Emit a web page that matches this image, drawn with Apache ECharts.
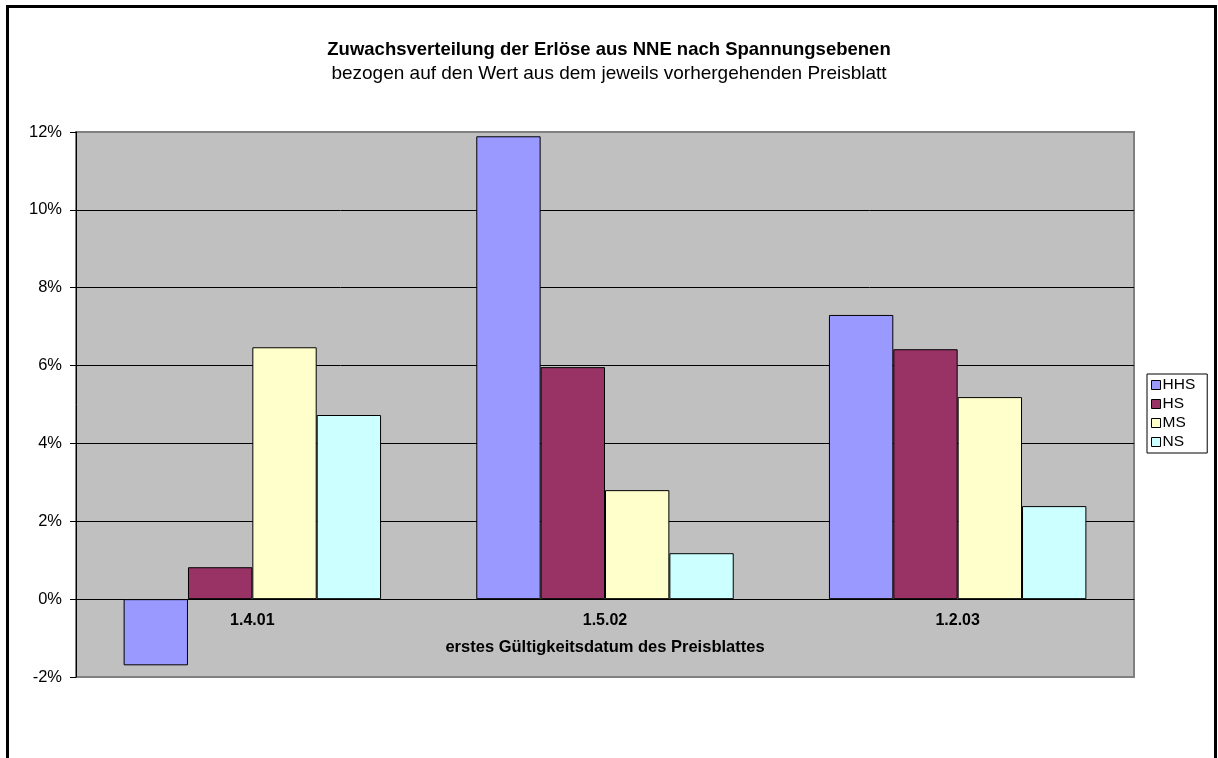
<!DOCTYPE html>
<html>
<head>
<meta charset="utf-8">
<script src="https://cdn.jsdelivr.net/npm/echarts@6/dist/echarts.min.js"></script>
<style>
  html, body { margin: 0; padding: 0; background: #fff; }
  #chart { width: 1218px; height: 758px; }
</style>
</head>
<body>
<div id="chart"></div>
<script>
// Zuwachs in Prozent je Preisblatt
let categories = ["1.4.01", "1.5.02", "1.2.03"];
let seriesNames = ["HHS", "HS", "MS", "NS"];
let hhs = [-1.7, 11.89, 7.3];
let hs = [0.82, 5.96, 6.42];
let ms = [6.47, 2.8, 5.19];
let ns = [4.73, 1.18, 2.39];
let colors = ["#9999FF", "#993366", "#FFFFCC", "#CCFFFF"];

let font = "Liberation Sans, Arial, sans-serif";
let values = [hhs, hs, ms, ns];

let series = seriesNames.map(function (name, i) {
    return {
        name: name,
        type: "bar",
        data: values[i],
        barGap: 0,
        barCategoryGap: "27%",
        itemStyle: {
            color: colors[i],
            borderColor: "#000",
            borderWidth: 1
        }
    };
});

let myChart = echarts.init(document.getElementById("chart"));
myChart.setOption({
    animation: false,
    title: {
        text: "Zuwachsverteilung der Erlöse aus NNE nach Spannungsebenen",
        subtext: "bezogen auf den Wert aus dem jeweils vorhergehenden Preisblatt",
        left: "center",
        top: 35,
        itemGap: 5,
        textStyle: { fontFamily: font, fontSize: 18.5, fontWeight: "bold", color: "#000" },
        subtextStyle: { fontFamily: font, fontSize: 19, color: "#000" }
    },
    grid: {
        left: 76,
        right: 84,
        top: 132,
        bottom: 81,
        show: true,
        backgroundColor: "#C0C0C0",
        borderColor: "#808080",
        borderWidth: 2
    },
    legend: {
        orient: "vertical",
        left: 1147,
        top: 374,
        padding: [3, 12, 3, 4],
        itemGap: 3,
        itemWidth: 9,
        itemHeight: 9,
        icon: "rect",
        borderColor: "#000",
        borderWidth: 1,
        backgroundColor: "#fff",
        itemStyle: { borderColor: "#000", borderWidth: 1 },
        textStyle: { fontFamily: font, fontSize: 15.5, color: "#000", padding: [0, 0, 0, -3] },
        data: seriesNames
    },
    xAxis: {
        type: "category",
        data: categories,
        offset: -78,
        name: "erstes Gültigkeitsdatum des Preisblattes",
        nameLocation: "middle",
        nameGap: 40,
        nameTextStyle: { fontFamily: font, fontSize: 16.5, fontWeight: "bold", color: "#000" },
        axisLine: { onZero: false, lineStyle: { color: "#000", width: 1 } },
        axisTick: { show: false },
        axisLabel: { fontFamily: font, fontSize: 16, fontWeight: "bold", color: "#000", margin: 14 },
        splitLine: { show: false }
    },
    yAxis: {
        type: "value",
        min: -2,
        max: 12,
        interval: 2,
        axisLine: { show: true, lineStyle: { color: "#000", width: 1 } },
        axisTick: { show: true, length: 6, lineStyle: { color: "#000" } },
        axisLabel: {
            fontFamily: font, fontSize: 16.5, color: "#000", margin: 14,
            formatter: "{value}%"
        },
        splitLine: {
            lineStyle: {
                color: ["#808080", "#000", "#000", "#000", "#000", "#000", "#000", "#808080"],
                width: 1
            }
        }
    },
    graphic: [{
        type: "rect",
        shape: { x: 7.5, y: 6.5, width: 1208, height: 800 },
        style: { fill: null, stroke: "#000", lineWidth: 3 },
        silent: true
    }],
    series: series
});
</script>
</body>
</html>
